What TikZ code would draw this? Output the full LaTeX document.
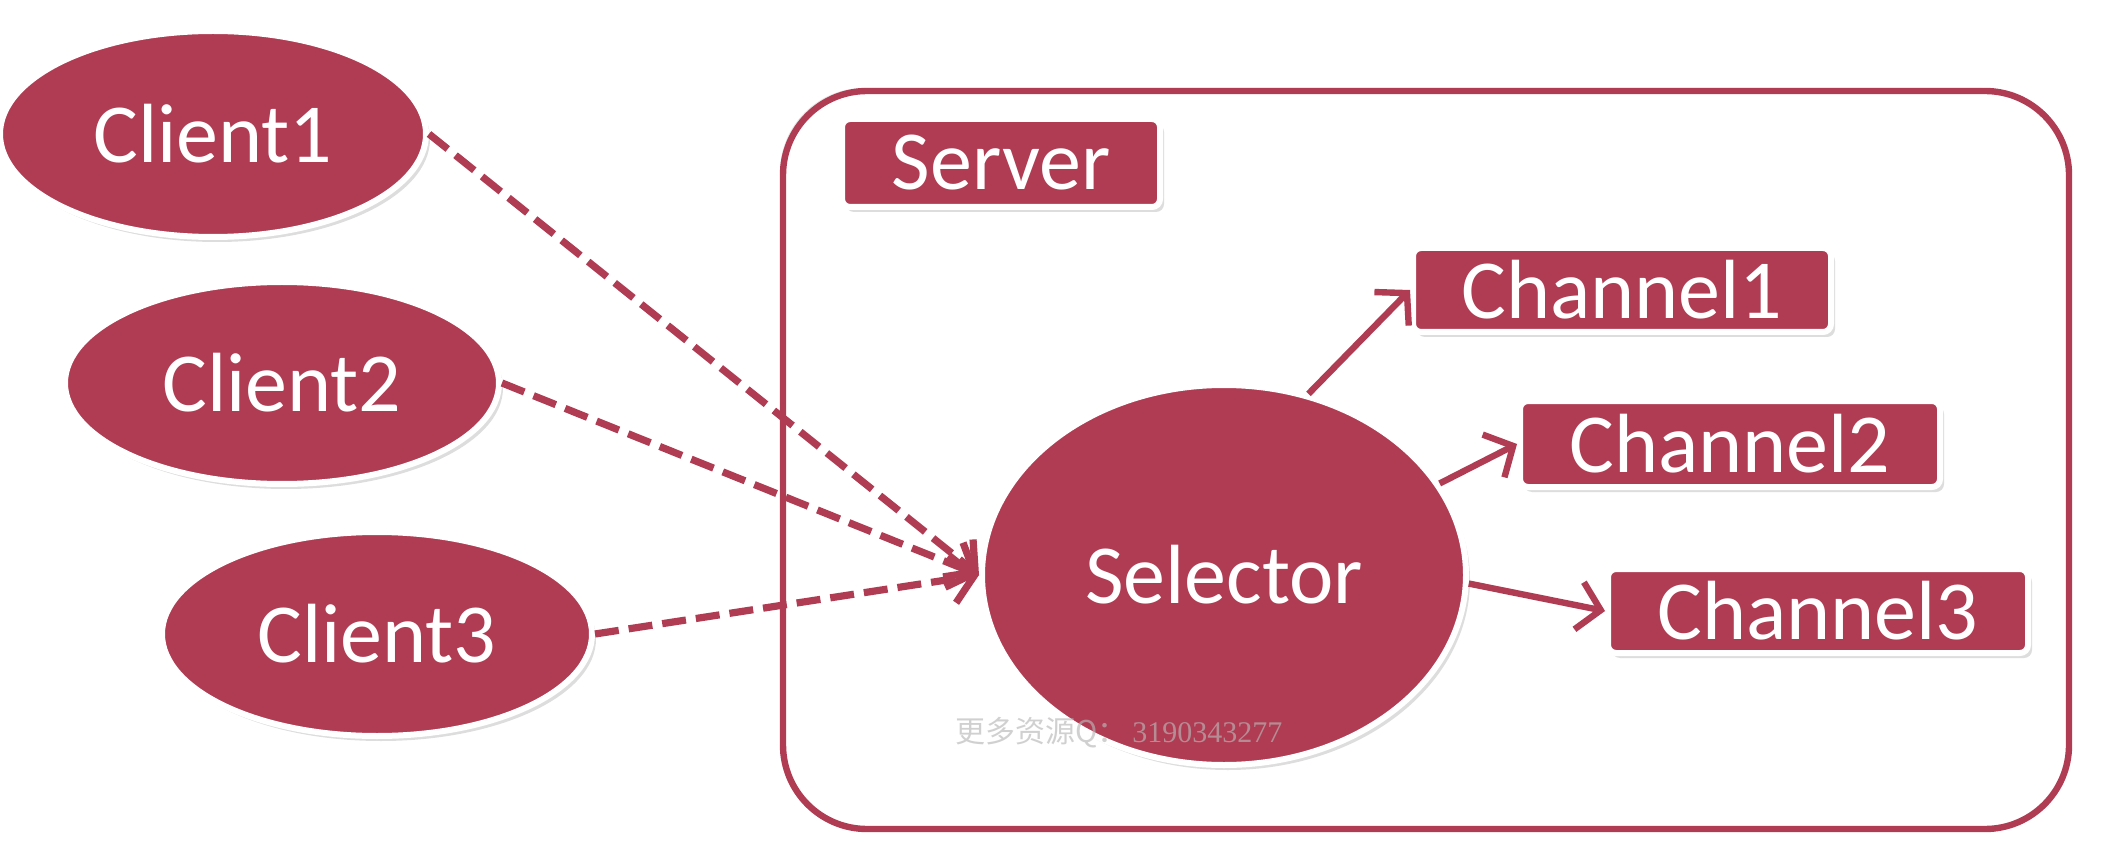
\documentclass[tikz,border=0pt]{standalone}
\usepackage{fontspec}
\setmainfont{Carlito}
\newfontfamily\cjkfont{Noto Sans CJK SC}
\newfontfamily\markfont{Liberation Serif}
\usetikzlibrary{shapes.geometric,arrows.meta,shadows}
\definecolor{berry}{RGB}{176,60,83}

\begin{document}
\begin{tikzpicture}[x=0.5pt,y=-0.5pt,
  label font/.style={font=\fontsize{42}{50}\selectfont},
  softshadow/.style={drop shadow={shadow xshift=2pt,shadow yshift=-2.5pt,opacity=0.22,fill=black!60}},
  client/.style={ellipse, fill=berry, draw=white, line width=3pt, inner sep=0pt,
                 text=white, label font, softshadow},
  tag/.style={rectangle, rounded corners=4pt, fill=berry, draw=white, line width=3pt,
              inner sep=0pt, text=white, label font, softshadow},
  serverbox/.style={rectangle, rounded corners=42pt, fill=white, draw=berry, line width=3.2pt,
                    drop shadow={shadow xshift=-1.5pt,shadow yshift=1.5pt,opacity=0.18,fill=black!60}},
  request/.style={draw=berry, line width=3.6pt, dash pattern=on 12pt off 5pt,
                  -{Straight Barb[length=11pt,width=24pt,line width=3.6pt]}},
  dispatch/.style={draw=berry, line width=3.2pt,
                   -{Straight Barb[length=11pt,width=24pt,line width=3.2pt]}},
  watermark/.style={text=white!72!black, opacity=0.65, font=\fontsize{15}{18}\selectfont}
]
  % canvas
  \useasboundingbox (0,0) rectangle (2124,844);

  % server frame and its label
  \node[serverbox, minimum width=643pt, minimum height=369pt] (server) at (1426,460) {};
  \node[tag, minimum width=159pt, minimum height=44pt] (srvlabel) at (1001,163) {Server};

  % clients
  \node[client, minimum width=213pt, minimum height=103pt] (c1) at (213,134) {Client1};
  \node[client, minimum width=217pt, minimum height=101pt] (c2) at (282,383) {Client2};
  \node[client, minimum width=215pt, minimum height=102pt] (c3) at (377,634) {Client3};

  % selector
  \node[client, minimum width=242pt, minimum height=190pt] (sel) at (1224,575) {Selector};

  % channels
  \node[tag, minimum width=209pt, minimum height=42pt] (ch1) at (1622,290) {Channel1};
  \node[tag, minimum width=210pt, minimum height=43pt] (ch2) at (1730,444) {Channel2};
  \node[tag, minimum width=210pt, minimum height=42pt] (ch3) at (1818,611) {Channel3};

  % client requests to the selector
  \draw[request] (c1.east) -- (sel.west);
  \draw[request] (c2.east) -- (sel.west);
  \draw[request] (c3.east) -- (sel.west);

  % selector dispatching to channels
  \draw[dispatch] (sel.65) -- (ch1.west);
  \draw[dispatch] (sel.23) -- (ch2.west);
  \draw[dispatch] (sel.-2) -- (ch3.west);

  % faint mark near the bottom
  \node[watermark, anchor=west] (mark) at (948,733) {{\cjkfont 更多资源Q：}\,{\markfont 3190343277}};
\end{tikzpicture}
\end{document}
